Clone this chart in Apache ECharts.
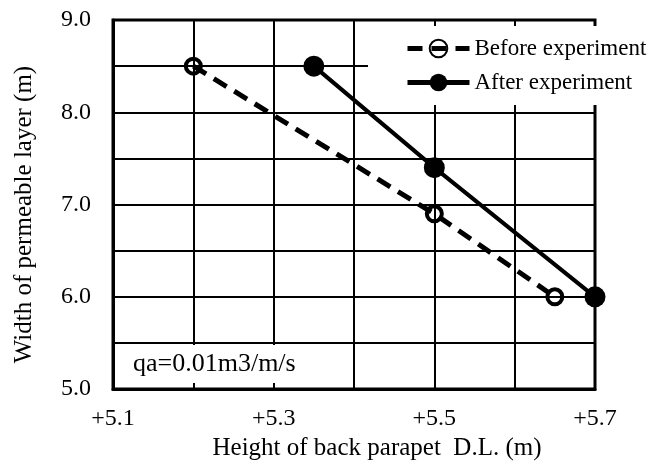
<!DOCTYPE html>
<html><head><meta charset="utf-8">
<script src="https://cdn.jsdelivr.net/npm/echarts@6/dist/echarts.min.js"></script>
<style>html,body{margin:0;padding:0;background:#fff}#c{width:651px;height:466px}</style>
</head><body><div id="c"></div>
<script>
// ---- data ----
const seriesNames = ['Before experiment', 'After experiment'];
const xBefore = [5.2, 5.5, 5.65];
const yBefore = [8.5, 6.9, 6.0];
const xAfter = [5.35, 5.5, 5.7];
const yAfter = [8.5, 7.4, 6.0];
const xTickLabels = ['+5.1', '+5.3', '+5.5', '+5.7'];
const yTickLabels = ['5.0', '6.0', '7.0', '8.0', '9.0'];
const xTitle = 'Height of back parapet  D.L. (m)';
const yTitle = 'Width of permeable layer (m)';
const annotation = 'qa=0.01m3/m/s';

const FONT = '"Liberation Serif","Times New Roman",serif';
function pickLabel(labels, v) {
  for (const l of labels) { if (Math.abs(parseFloat(l) - v) < 1e-6) return l; }
  return '';
}
const zip = (a, b) => a.map((x, i) => [x, b[i]]);

const chart = echarts.init(document.getElementById('c'), null, {renderer: 'canvas'});
chart.setOption({
  animation: false,
  backgroundColor: '#fff',
  grid: {left: 113, right: 56, top: 20, bottom: 73, show: true, borderColor: '#000', borderWidth: 3, backgroundColor: 'transparent'},
  xAxis: {
    type: 'value', min: 5.1, max: 5.7, interval: 0.1,
    axisLine: {show: true, lineStyle: {color: '#000', width: 3}},
    axisTick: {show: false},
    splitLine: {show: true, lineStyle: {color: '#000', width: 2}},
    axisLabel: {margin: 18, color: '#000', fontFamily: FONT, fontSize: 24, formatter: v => pickLabel(xTickLabels, v)},
    name: xTitle, nameLocation: 'middle', nameGap: 41,
    nameTextStyle: {color: '#000', fontFamily: FONT, fontSize: 25, padding: [0, 0, 0, 46]}
  },
  yAxis: {
    type: 'value', min: 5, max: 9, interval: 0.5,
    axisLine: {show: true, lineStyle: {color: '#000', width: 3}},
    axisTick: {show: false},
    splitLine: {show: true, lineStyle: {color: '#000', width: 2}},
    axisLabel: {margin: 22, color: '#000', fontFamily: FONT, fontSize: 24, formatter: v => pickLabel(yTickLabels, v)},
    name: yTitle, nameLocation: 'middle', nameGap: 76, nameRotate: 90,
    nameTextStyle: {color: '#000', fontFamily: FONT, fontSize: 25, padding: [0, 20, 0, 0]}
  },
  legend: {
    data: seriesNames, orient: 'vertical', left: 368, top: 26,
    backgroundColor: '#fff', padding: [11, 6, 11, 37],
    itemWidth: 62, itemHeight: 22, itemGap: 11,
    lineStyle: {width: 5},
    textStyle: {color: '#000', fontFamily: FONT, fontSize: 23, lineHeight: 23, padding: [0, 0, 0, 0]}
  },
  graphic: [{
    type: 'text', left: 125, top: 345, z: 10,
    style: {text: annotation, font: '26px ' + FONT, fill: '#000', backgroundColor: '#fff', padding: [6, 8, 6, 8]}
  }],
  series: [
    {
      name: seriesNames[0], type: 'line', data: zip(xBefore, yBefore),
      symbol: 'circle', symbolSize: 15, z: 3,
      lineStyle: {color: '#000', width: 5, type: [15, 9]},
      itemStyle: {color: 'rgba(0,0,0,0)', borderColor: '#000', borderWidth: 4}
    },
    {
      name: seriesNames[1], type: 'line', data: zip(xAfter, yAfter),
      symbol: 'circle', symbolSize: 21, z: 3,
      lineStyle: {color: '#000', width: 4},
      itemStyle: {color: '#000'}
    }
  ]
});
</script></body></html>
